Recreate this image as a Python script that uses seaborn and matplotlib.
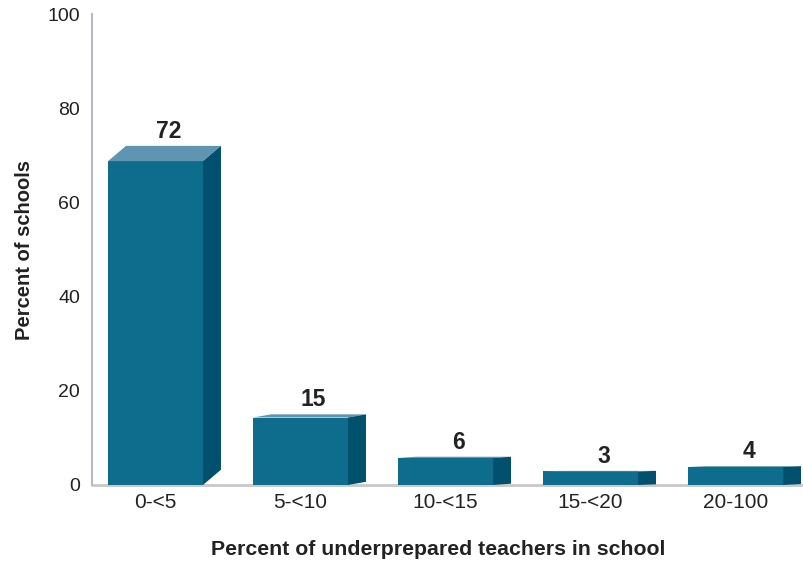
import numpy as np
import pandas as pd
import matplotlib.pyplot as plt
import seaborn as sns
from matplotlib.patches import Polygon

# ==========================
# DATA
# ==========================

categories = ["0-<5", "5-<10", "10-<15", "15-<20", "20-100"]
percents = [72, 15, 6, 3, 4]
y_ticks = [0, 20, 40, 60, 80, 100]

# 3D look
front_col = "#0e6d8d"
top_col = "#5f95b1"
side_col = "#00506e"
depth_x = 0.124
depth_ratio = 0.045

df = pd.DataFrame({"range": categories, "percent": percents})
df["front"] = df["percent"] * (1 - depth_ratio)

# ==========================
# PLOT
# ==========================

sns.set_style("white")
plt.rcParams["font.family"] = ["Liberation Sans", "DejaVu Sans"]

fig = plt.figure(figsize=(8.04, 5.61), dpi=100)
ax = fig.add_axes([0.1144, 0.1355, 0.8856, 0.8395])

ax.axhline(0, color="#c8c8c8", lw=2, zorder=0, clip_on=False)

sns.barplot(
    data=df,
    x="range",
    y="front",
    color=front_col,
    saturation=1,
    width=0.655,
    linewidth=0,
    ax=ax,
    zorder=2
)

for bar, val in zip(ax.patches, percents):
    x0 = bar.get_x()
    w = bar.get_width()
    h = bar.get_height()
    dy = val - h

    top = Polygon(
        [(x0, h), (x0 + w, h), (x0 + w + depth_x, val), (x0 + depth_x, val)],
        closed=True, facecolor=top_col, edgecolor="none", zorder=3, clip_on=False
    )
    side = Polygon(
        [(x0 + w, 0), (x0 + w + depth_x, dy), (x0 + w + depth_x, val), (x0 + w, h)],
        closed=True, facecolor=side_col, edgecolor="none", zorder=3, clip_on=False
    )
    ax.add_patch(top)
    ax.add_patch(side)

    ax.text(
        x0 + w / 2 + 0.09,
        val + 1.7,
        f"{val}",
        ha="center",
        va="baseline",
        fontsize=16.5,
        fontweight="bold",
        color="#222222"
    )

ax.set_xlim(-0.438, 4.472)
ax.set_ylim(0, 100)
ax.set_yticks(y_ticks)

for s in ["top", "right", "bottom"]:
    ax.spines[s].set_visible(False)
ax.spines["left"].set_color("#b9b9c0")
ax.spines["left"].set_linewidth(1.5)

ax.tick_params(axis="y", length=0, pad=8.5, labelsize=14, colors="#222222")
ax.tick_params(axis="x", length=0, pad=6, labelsize=15, colors="#222222")

ax.set_xlabel(
    "Percent of underprepared teachers in school",
    fontsize=15.3,
    fontweight="bold",
    labelpad=19,
    color="#222222"
)
ax.xaxis.set_label_coords(0.486, -0.117)
ax.set_ylabel(
    "Percent of schools",
    fontsize=14.5,
    fontweight="bold",
    labelpad=10,
    color="#222222"
)

fig.savefig("out.png", dpi=100)
